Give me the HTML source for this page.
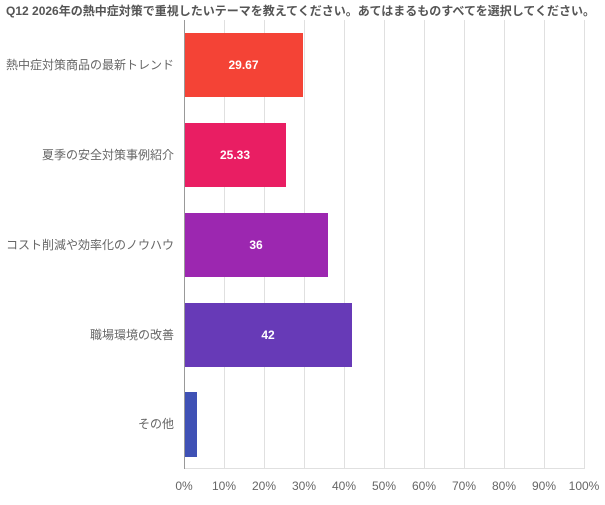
<!DOCTYPE html>
<html><head><meta charset="utf-8"><style>
body{margin:0;background:#fff;}
svg text{font-family:"Liberation Sans","Noto Sans CJK JP",sans-serif;}
</style></head><body>
<svg width="605" height="500" xmlns="http://www.w3.org/2000/svg">
<text x="6" y="15" font-size="12" font-weight="bold" fill="#555">Q12 2026年の熱中症対策で重視したいテーマを教えてください。あてはまるものすべてを選択してください。</text>
<g stroke="#e0e0e0" stroke-width="1">
<line x1="224.5" y1="20" x2="224.5" y2="469"/><line x1="264.5" y1="20" x2="264.5" y2="469"/>
<line x1="304.5" y1="20" x2="304.5" y2="469"/><line x1="344.5" y1="20" x2="344.5" y2="469"/>
<line x1="384.5" y1="20" x2="384.5" y2="469"/><line x1="424.5" y1="20" x2="424.5" y2="469"/>
<line x1="464.5" y1="20" x2="464.5" y2="469"/><line x1="504.5" y1="20" x2="504.5" y2="469"/>
<line x1="544.5" y1="20" x2="544.5" y2="469"/><line x1="584.5" y1="20" x2="584.5" y2="469"/>
<line x1="184" y1="468.5" x2="585" y2="468.5"/>
</g>
<rect x="184" y="33" width="119" height="64" fill="#f44336"/>
<rect x="184" y="123" width="102" height="64" fill="#e91e63"/>
<rect x="184" y="213" width="144" height="64" fill="#9c27b0"/>
<rect x="184" y="303" width="168" height="64" fill="#673ab7"/>
<rect x="184" y="392" width="13" height="65" fill="#3f51b5"/>
<line x1="184.5" y1="20" x2="184.5" y2="469" stroke="#999"/>
<g fill="#fff" font-size="12" font-weight="bold" text-anchor="middle">
<text x="243.5" y="69">29.67</text><text x="235" y="159">25.33</text>
<text x="256" y="249">36</text><text x="268" y="339">42</text>
</g>
<g fill="#666" font-size="12" text-anchor="end">
<text x="174" y="69">熱中症対策商品の最新トレンド</text>
<text x="174" y="159">夏季の安全対策事例紹介</text>
<text x="174" y="249">コスト削減や効率化のノウハウ</text>
<text x="174" y="339">職場環境の改善</text>
<text x="174" y="428">その他</text>
</g>
<g fill="#666" font-size="12" text-anchor="middle">
<text x="184" y="490">0%</text><text x="224" y="490">10%</text><text x="264" y="490">20%</text>
<text x="304" y="490">30%</text><text x="344" y="490">40%</text><text x="384" y="490">50%</text>
<text x="424" y="490">60%</text><text x="464" y="490">70%</text><text x="504" y="490">80%</text>
<text x="544" y="490">90%</text><text x="584" y="490">100%</text>
</g>
</svg>
</body></html>
